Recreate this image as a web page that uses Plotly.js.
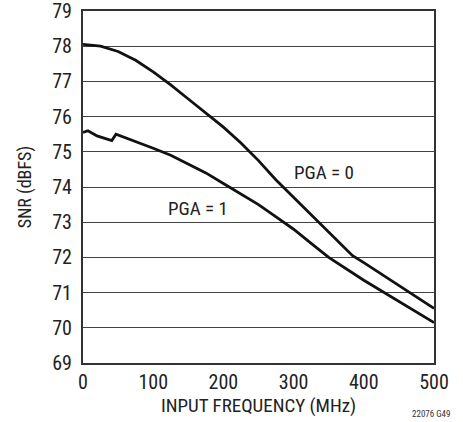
<!DOCTYPE html>
<html><head><meta charset="utf-8">
<script src="https://cdn.plot.ly/plotly-3.0.1.min.js"></script>
<style>body{margin:0;background:#fff}#c{width:463px;height:422px}</style>
</head><body><div id="c"></div>
<script>
const freqPGA0 = [0, 25, 50, 75, 100, 125, 150, 175, 200, 225, 250, 275, 300, 325, 350, 384, 400, 450, 500];
const snrPGA0  = [78.05, 78.0, 77.85, 77.6, 77.27, 76.9, 76.5, 76.1, 75.7, 75.25, 74.75, 74.2, 73.7, 73.2, 72.7, 72.05, 71.85, 71.2, 70.55];
const freqPGA1 = [0, 7, 20, 41, 47, 75, 100, 125, 150, 175, 200, 225, 250, 275, 300, 325, 350, 400, 450, 500];
const snrPGA1  = [75.55, 75.6, 75.45, 75.32, 75.5, 75.3, 75.1, 74.9, 74.65, 74.4, 74.1, 73.8, 73.5, 73.15, 72.8, 72.4, 72.0, 71.35, 70.75, 70.15];
const xTicks = [0, 100, 200, 300, 400, 500];
const yTicks = [69, 70, 71, 72, 73, 74, 75, 76, 77, 78, 79];
const seriesLabels = ["PGA = 0", "PGA = 1"];
const labelPos = [[344, 74.4], [164, 73.4]];

const font = "'Liberation Sans Narrow', 'Roboto Condensed', Arial, sans-serif";
const lineStyle = {color: '#111', width: 2.8, shape: 'linear'};
const traces = [
  {x: freqPGA0, y: snrPGA0, mode: 'lines', line: lineStyle, name: seriesLabels[0], hoverinfo: 'skip'},
  {x: freqPGA1, y: snrPGA1, mode: 'lines', line: lineStyle, name: seriesLabels[1], hoverinfo: 'skip'}
];
const layout = {
  width: 463, height: 422,
  margin: {l: 83, r: 29, t: 11, b: 59},
  paper_bgcolor: '#fff', plot_bgcolor: '#fff',
  showlegend: false,
  font: {family: font, size: 18, color: '#222'},
  xaxis: {
    range: [0, 500], tickvals: xTicks, ticktext: xTicks.map(String),
    showgrid: false, zeroline: false, showline: true, mirror: true,
    linecolor: '#333', linewidth: 2, ticks: '', ticklen: 0,
    ticklabeloverflow: 'allow',
    tickfont: {family: font, size: 20, color: '#222'},
    title: {text: 'INPUT FREQUENCY (MHz)', font: {family: font, size: 19, color: '#222'}, standoff: 6}
  },
  yaxis: {
    range: [69, 79], tickvals: yTicks, ticktext: yTicks.map(String),
    showgrid: true, gridcolor: '#444', gridwidth: 1, zeroline: false,
    showline: true, mirror: true, linecolor: '#333', linewidth: 2, ticks: '',
    ticklabeloverflow: 'allow', ticklabelstandoff: 5,
    tickfont: {family: font, size: 20, color: '#222'},
    title: {text: 'SNR (dBFS)', font: {family: font, size: 18, color: '#222'}, standoff: 16}
  },
  annotations: [
    {x: labelPos[0][0], y: labelPos[0][1], text: seriesLabels[0], showarrow: false, font: {family: font, size: 19, color: '#222'}},
    {x: labelPos[1][0], y: labelPos[1][1], text: seriesLabels[1], showarrow: false, font: {family: font, size: 19, color: '#222'}},
    {xref: 'paper', yref: 'paper', x: 1.05, y: -0.165, xanchor: 'right', yanchor: 'bottom', text: '22076 G49', showarrow: false, font: {family: font, size: 9, color: '#333'}}
  ]
};
Plotly.newPlot('c', traces, layout, {staticPlot: true, displayModeBar: false});
</script></body></html>
